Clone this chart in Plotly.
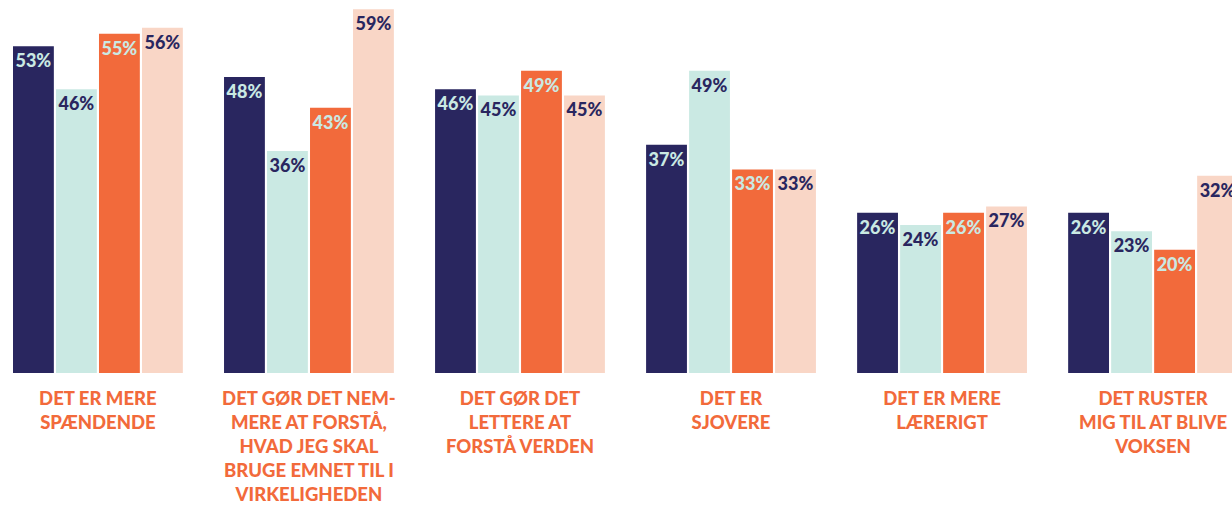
import plotly.graph_objects as go

categories = [
    "DET ER MERE<br>SPÆNDENDE",
    "DET GØR DET NEM-<br>MERE AT FORSTÅ,<br>HVAD JEG SKAL<br>BRUGE EMNET TIL I<br>VIRKELIGHEDEN",
    "DET GØR DET<br>LETTERE AT<br>FORSTÅ VERDEN",
    "DET ER<br>SJOVERE",
    "DET ER MERE<br>LÆRERIGT",
    "DET RUSTER<br>MIG TIL AT BLIVE<br>VOKSEN",
]
series_names = ["Serie 1", "Serie 2", "Serie 3", "Serie 4"]
serie1 = [53, 48, 46, 37, 26, 26]
serie2 = [46, 36, 45, 49, 24, 23]
serie3 = [55, 43, 49, 33, 26, 20]
serie4 = [56, 59, 45, 33, 27, 32]
series_values = [serie1, serie2, serie3, serie4]

NAVY = "#29265f"
MINT = "#cae9e3"
ORANGE = "#f26a3b"
PEACH = "#f9d6c6"
bar_colors = [NAVY, MINT, ORANGE, PEACH]
text_colors = [MINT, NAVY, MINT, NAVY]

FONT = "Lato"

fig = go.Figure()
x_idx = list(range(len(categories)))
for name, vals, bc, tc in zip(series_names, series_values, bar_colors, text_colors):
    fig.add_trace(go.Bar(
        x=x_idx,
        y=vals,
        name=name,
        marker=dict(color=bc, line=dict(width=0)),
        text=[f"{v}%" for v in vals],
        textposition="inside",
        insidetextanchor="end",
        constraintext="none",
        textfont=dict(family=FONT, size=18, color=tc, weight=900),
        textangle=0,
        hoverinfo="skip",
    ))

fig.update_layout(
    width=1232,
    height=505,
    barmode="group",
    bargap=0.185,
    bargroupgap=0.05,
    showlegend=False,
    plot_bgcolor="white",
    paper_bgcolor="white",
    margin=dict(l=0, r=0, t=0, b=130),
    xaxis=dict(
        range=[-0.464, 5.374],
        tickmode="array",
        tickvals=x_idx,
        ticktext=categories,
        tickfont=dict(family=FONT, size=18.5, color=ORANGE, weight=900),
        showgrid=False,
        zeroline=False,
        showline=False,
        ticks="",
        ticklabelstandoff=12,
    ),
    yaxis=dict(
        range=[0, 60.48],
        visible=False,
        showgrid=False,
        zeroline=False,
    ),
)

fig.write_html(
    "out.html",
    config={"displayModeBar": False, "staticPlot": True},
    post_script="document.body.style.margin='0';",
)
